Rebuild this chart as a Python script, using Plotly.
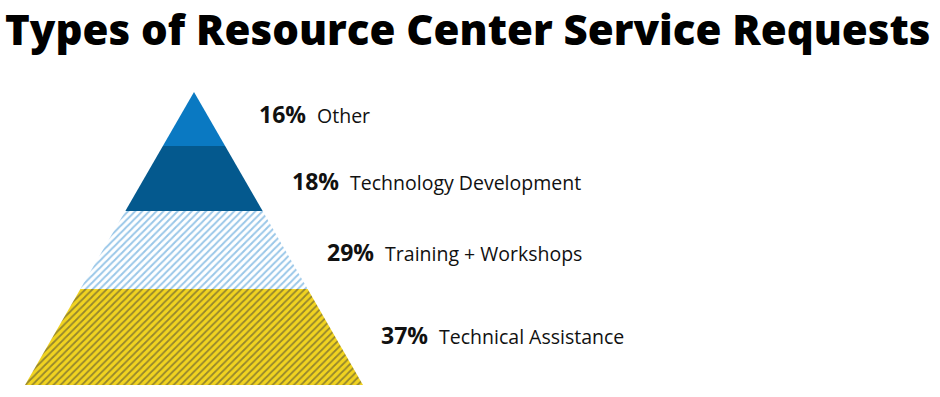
import plotly.graph_objects as go

# ---- data ----
categories = ["Other", "Technology Development", "Training + Workshops", "Technical Assistance"]
percents = [16, 18, 29, 37]
title_text = "Types of Resource Center Service Requests"

# ---- geometry (layout, pixel-like units) ----
W, H = 940, 397
APEX_X, APEX_Y = 194, 92
BASE_Y = 385
HALF_BASE = 169
layer_heights = [54, 65, 78, 96]          # visual heights of layers, top to bottom
label_x = [257, 290, 325, 379]            # left edge of each label
label_yc = [114, 181, 252, 335]           # vertical center of each label

fills = [
    dict(fillcolor="#0A79C2", pattern=None),
    dict(fillcolor="#04598E", pattern=None),
    dict(fillcolor="white", pattern=dict(shape="/", fgcolor="#358FD2", bgcolor="white", size=5, solidity=0.4)),
    dict(fillcolor="#F1D320", pattern=dict(shape="/", fgcolor="#3A3A3A", bgcolor="#F1D320", size=5, solidity=0.35)),
]

def half_width(y):
    return (y - APEX_Y) / (BASE_Y - APEX_Y) * HALF_BASE

fig = go.Figure()
y_top = APEX_Y
for i, (cat, pct) in enumerate(zip(categories, percents)):
    y_bot = y_top + layer_heights[i]
    wt, wb = half_width(y_top), half_width(y_bot)
    xs = [APEX_X - wt, APEX_X + wt, APEX_X + wb, APEX_X - wb, APEX_X - wt]
    ys = [y_top, y_top, y_bot, y_bot, y_top]
    kw = dict(x=xs, y=ys, mode="lines", fill="toself", line=dict(width=0),
              fillcolor=fills[i]["fillcolor"], hoverinfo="skip", showlegend=False, name=cat)
    if fills[i]["pattern"]:
        kw["fillpattern"] = fills[i]["pattern"]
    fig.add_trace(go.Scatter(**kw))
    fig.add_annotation(
        x=label_x[i], y=label_yc[i], xref="x", yref="y", xanchor="left", yanchor="middle",
        showarrow=False,
        text=f"<b>{pct}%</b>&nbsp;<span style='font-size:19.5px;font-weight:normal'>&nbsp;{cat}</span>",
        font=dict(family="Open Sans", size=23, color="#111111"),
    )
    y_top = y_bot

fig.add_annotation(
    x=3, y=28, xref="x", yref="y", xanchor="left", yanchor="middle", showarrow=False,
    text=title_text,
    font=dict(family="Open Sans", size=42, color="#000000", weight=800),
)

fig.update_layout(
    width=W, height=H, margin=dict(l=0, r=0, t=0, b=0),
    paper_bgcolor="white", plot_bgcolor="white",
    xaxis=dict(range=[0, W], visible=False, fixedrange=True),
    yaxis=dict(range=[H, 0], visible=False, fixedrange=True),
)
fig.write_html("out.html", post_script="document.body.style.margin='0';",
               config={"displayModeBar": False})
